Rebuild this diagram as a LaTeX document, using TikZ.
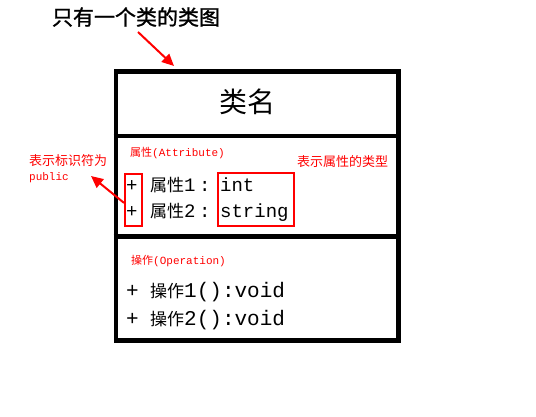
\documentclass[tikz,border=0pt]{standalone}
\usepackage{fontspec}
\setmainfont{Liberation Mono}
\newfontfamily\cjk{Noto Sans CJK SC}
\newfontfamily\cjkbold[FakeBold=1.2]{Noto Sans CJK SC}
\newfontfamily\mono{Liberation Mono}
\usetikzlibrary{arrows.meta}
\newcommand\zh[1]{{\cjk #1}}
\newcommand\mzh[1]{{\fontsize{17}{17}\selectfont\cjk #1}}
\newcommand\cell[2]{\makebox[#1][l]{#2}}
\begin{document}
\begin{tikzpicture}[x=1pt,y=-1pt,
  txt/.style={inner sep=0pt,anchor=west,font=\mono},
  member/.style={txt,font=\fontsize{19}{19}\selectfont\mono},
  opmember/.style={txt,font=\fontsize{21}{21}\selectfont\mono},
  redsmall/.style={txt,text=red,font=\fontsize{11}{11}\selectfont\mono},
  rednote/.style={txt,text=red,font=\fontsize{13}{13}\selectfont\cjk},
  redbox/.style={draw=red,line width=1.8pt,inner sep=0pt},
  redarrow/.style={draw=red,line width=2pt,-{Triangle[length=12pt,width=11pt]}},
  classline/.style={line width=4.7pt}]
\useasboundingbox[fill=white] (0,0) rectangle (536,417);
% class box
\node[draw,classline,minimum width=282.6pt,minimum height=269pt,inner sep=0pt,anchor=north west] (cls) at (113.7,69.3) {};
\coordinate (d1l) at (113.7,136);
\coordinate (d1r) at (396.3,136);
\coordinate (d2l) at (113.7,236.3);
\coordinate (d2r) at (396.3,236.3);
\draw[classline] (d1l) -- (d1r);
\draw[classline] (d2l) -- (d2r);
% title
\node[inner sep=0pt,font=\fontsize{21}{21}\selectfont\cjkbold] (title) at (136,17) {只有一个类的类图};
\node[inner sep=0pt,font=\fontsize{28}{28}\selectfont\cjk] (name) at (247,102) {类名};
% attributes
\node[redsmall] (attr) at (130,153) {\zh{属性}(Attribute)};
\node[member] (a1) at (126,185) {\cell{24pt}{+}\mzh{属性}\cell{15pt}{1}\cell{21pt}{:}int};
\node[member] (a2) at (126,212) {\cell{24pt}{+}\mzh{属性}\cell{15pt}{2}\cell{21pt}{:}string};
% operations
\node[redsmall] (oper) at (131,261) {\zh{操作}(Operation)};
\node[opmember] (o1) at (126,292) {\cell{24pt}{+}\mzh{操作}1():void};
\node[opmember] (o2) at (126,320) {\cell{24pt}{+}\mzh{操作}2():void};
% notes
\node[rednote] (typenote) at (297,162) {表示属性的类型};
\node[rednote] (pubnote) at (29,161) {表示标识符为};
\node[redsmall] (pub) at (29,178) {public};
% red boxes
\node[redbox,minimum width=17pt,minimum height=52pt,anchor=north west] (plusbox) at (124,173) {};
\node[redbox,minimum width=76pt,minimum height=53pt,anchor=north west] (typebox) at (217,172.3) {};
% arrows
\coordinate (tipA) at (91,176);
\draw[redarrow] ([yshift=-3pt]plusbox.west) -- (tipA);
\coordinate (startT) at (138,32);
\coordinate (tipT) at (174,66);
\draw[redarrow] (startT) -- (tipT);
\end{tikzpicture}
\end{document}
